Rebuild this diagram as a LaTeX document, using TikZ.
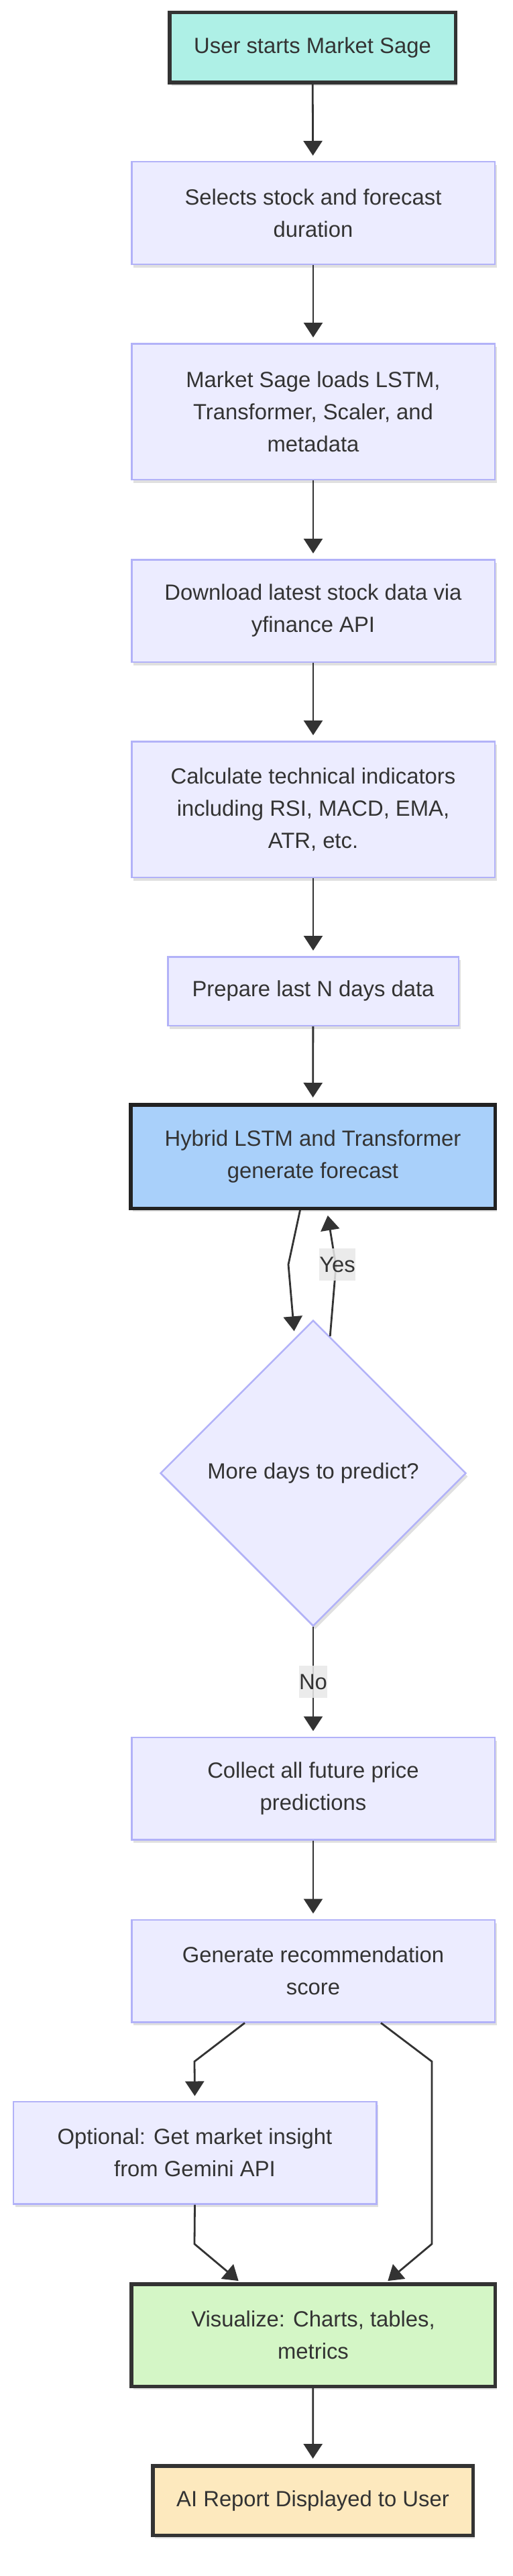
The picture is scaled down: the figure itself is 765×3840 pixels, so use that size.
\documentclass[tikz,border=0pt]{standalone}
\usepackage{fontspec}
\setmainfont{Liberation Sans}
\usetikzlibrary{arrows.meta,shapes.geometric,shadows,calc}
\definecolor{txt}{HTML}{333333}
\definecolor{nfill}{HTML}{ECECFF}
\definecolor{nstroke}{HTML}{B2B2F8}
\definecolor{startfill}{HTML}{AEF0E6}
\definecolor{hybfill}{HTML}{A9D0FA}
\definecolor{visfill}{HTML}{D4F6C6}
\definecolor{aifill}{HTML}{FDE9BE}
\definecolor{lblbg}{HTML}{E8E8E8}
\definecolor{edgec}{HTML}{333333}
\definecolor{darkb}{HTML}{333333}
\definecolor{darkerb}{HTML}{222222}
\begin{document}
\begin{tikzpicture}[x=1pt,y=-1pt,
  every node/.style={font=\fontsize{32.8}{48}\selectfont, text=txt, align=center, inner sep=0pt},
  sh/.style={drop shadow={shadow xshift=3pt, shadow yshift=-5pt, opacity=0.12, fill=black}},
  box/.style={rectangle, draw=nstroke, line width=2.5pt, fill=nfill, minimum width=541.5pt, minimum height=152.5pt, sh},
  tallbox/.style={box, minimum height=202.5pt},
  thickbox/.style={rectangle, draw=darkb, line width=5.5pt, sh},
  decision/.style={diamond, aspect=1, draw=nstroke, line width=2.5pt, fill=nfill, minimum width=456pt, minimum height=456pt, sh},
  lbl/.style={fill=lblbg, fill opacity=0.85, text opacity=1, minimum height=48pt, inner xsep=0pt},
  arr/.style={draw=edgec, line width=2.8pt, -{Triangle[length=22pt,width=28pt]}}
]
\useasboundingbox (0,0) rectangle (765,3840);

\node[thickbox, fill=startfill, minimum width=426.5pt, minimum height=104.5pt] (n1) at (466,71) {User starts Market Sage};
\node[box] (n2) at (467,317.5) {Selects stock and forecast\\duration};
\node[tallbox] (n3) at (467,613.5) {Market Sage loads LSTM,\\Transformer, Scaler, and\\metadata};
\node[box] (n4) at (467,910.5) {Download latest stock data via\\yfinance API};
\node[tallbox] (n5) at (467,1206.5) {Calculate technical indicators\\including RSI, MACD, EMA,\\ATR, etc.};
\node[box, minimum width=433.5pt, minimum height=102.5pt] (n6) at (467,1477.5) {Prepare last N days data};
\node[thickbox, draw=darkerb, fill=hybfill, minimum width=543.5pt, minimum height=154.5pt] (n7) at (466.5,1724) {Hybrid LSTM and Transformer\\generate forecast};
\node[decision] (d) at (467,2196) {More days to predict?};
\node[box] (n9) at (467,2666) {Collect all future price\\predictions};
\node[box] (n10) at (467,2938) {Generate recommendation\\score};
\node[box] (n11) at (290.5,3209) {Optional: Get market insight\\from Gemini API};
\node[thickbox, fill=visfill, minimum width=542.5pt, minimum height=152.5pt] (n12) at (467,3481) {Visualize: Charts, tables,\\metrics};
\node[thickbox, fill=aifill, minimum width=477.5pt, minimum height=103.5pt] (n13) at (466.5,3727.5) {AI Report Displayed to User};

% straight edges
\draw[arr, shorten >=8pt] (n1) -- (n2);
\draw[arr, shorten >=8pt] (n2) -- (n3);
\draw[arr, shorten >=8pt] (n3) -- (n4);
\draw[arr, shorten >=8pt] (n4) -- (n5);
\draw[arr, shorten >=8pt] (n5) -- (n6);
\draw[arr, shorten >=8pt] (n6) -- (n7);

% loop
\coordinate (lp1) at (430,1885);
\draw[arr, shorten >=10pt] ([xshift=-19pt]n7.south) -- (lp1) -- ($(d.north)!0.12!(d.west)$);
\coordinate (yp1) at (501,1887);
\draw[arr, shorten >=8pt] ($(d.north)!0.11!(d.east)$) -- (yp1) -- ([xshift=21pt]n7.south);
\node[lbl, minimum width=54pt] (yes) at (503,1885) {Yes};

% no
\draw[arr, shorten >=8pt] (d.south) -- (n9.north);
\node[lbl, minimum width=42pt] (no) at (467,2507) {No};

\draw[arr, shorten >=8pt] (n9) -- (n10);

% branches
\coordinate (g1) at (290,3073);
\draw[arr, shorten >=7pt] ([xshift=-102pt]n10.south) -- (g1) -- (n11.north);
\coordinate (g2) at (644,3073);
\coordinate (g3) at (644,3345);
\draw[arr, shorten >=3pt] ([xshift=101pt]n10.south) -- (g2) -- (g3) -- ([xshift=109pt]n12.north);
\coordinate (o1) at (290,3345);
\draw[arr, shorten >=3pt] (n11.south) -- (o1) -- ([xshift=-109pt]n12.north);

\draw[arr, shorten >=8pt] (n12) -- (n13);
\end{tikzpicture}
\end{document}
